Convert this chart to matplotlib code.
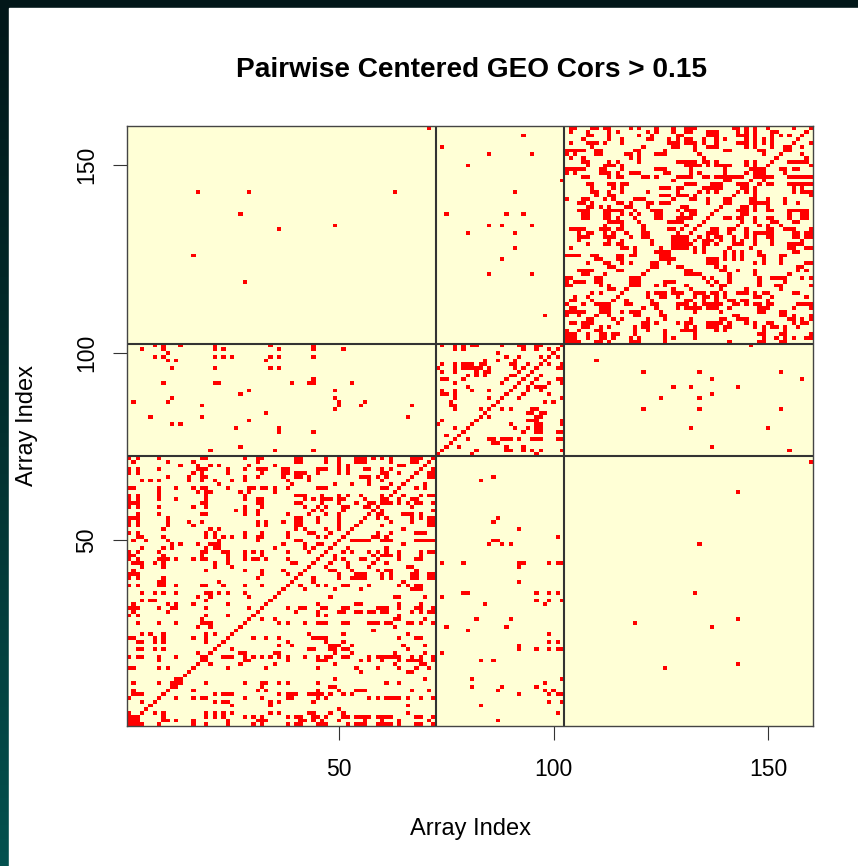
import numpy as np
import matplotlib
matplotlib.use('Agg')
import matplotlib.pyplot as plt
from matplotlib.colors import ListedColormap, LinearSegmentedColormap

plt.rcParams['font.family'] = ['Liberation Sans', 'DejaVu Sans']

n_arrays = 160
block_edges = [72.5, 102.5]
x_ticks = [50, 100, 150]
y_ticks = [50, 100, 150]

# Pairs above the diagonal, matrix is symmetric: (x, y) with y > x
far_pairs = [(17, 143), (29, 143), (63, 143), (27, 137), (49, 134), (36, 133), (16, 126), (28, 119), (71, 160)]

top_mid_pairs = [(93, 158), (74, 155), (85, 153), (95, 153), (80, 150), (102, 146), (91, 143), (75, 137),
                 (89, 137), (93, 137), (85, 134), (88, 134), (95, 134), (80, 132), (91, 132), (91, 128),
                 (88, 125), (85, 121), (95, 121), (98, 110)]

# Small clumps that touch the diagonal
near_diag_pairs = [(1, 2), (1, 3), (2, 3), (11, 12), (12, 13), (18, 19), (57, 59), (58, 60), (60, 62),
                   (60, 61), (83, 85), (97, 99), (99, 101), (128, 129), (128, 130), (129, 130), (129, 131),
                   (130, 131), (128, 131), (147, 149), (119, 120),
                   (103, 104), (103, 105), (104, 105), (107, 108), (108, 109), (111, 112), (112, 113), (111, 113),
                   (118, 119), (118, 120), (123, 124), (125, 126), (125, 127), (126, 127),
                   (140, 141), (144, 145), (143, 145), (147, 148), (148, 149), (154, 155)]

# Row y -> x positions, block 1 against block 2
mid_left_rows = {
    102: [7, 9, 13, 21, 34, 44], 101: [4, 9, 21, 23, 36, 44, 51], 100: [10], 99: [7, 9, 21, 23, 25, 34, 36, 44],
    98: [10, 12, 33], 96: [11, 21, 34, 36], 93: [44], 92: [9, 21, 22, 39, 43, 44, 53], 90: [29, 49], 89: [27],
    88: [11, 49], 87: [2, 10, 50, 56], 86: [18, 50, 55, 67], 85: [49], 84: [33], 83: [6, 18, 66], 82: [29],
    81: [11, 13], 80: [26, 36], 79: [36, 44], 75: [27], 74: [20, 35, 44],
}

# Block 1 (arrays 1-72), upper-left triangle
block1_rows = {
    72: [1, 3, 8, 18, 19, 28, 31, 32, 40, 41, 47, 50, 54, 55, 56, 58, 60, 62, 67, 68, 69, 71],
    71: [2, 10, 16, 31, 40, 41, 47, 50, 54, 55, 56, 62, 67, 68],
    70: [13, 17, 20, 22, 29, 35, 50, 52, 64, 65],
    69: [1, 3, 8, 17, 18, 19, 24, 28, 31, 32, 33, 37, 38, 45, 46, 47, 50, 52, 56, 57, 60, 62, 68],
    68: [1, 3, 16, 18, 24, 32, 37, 38, 40, 41, 42, 45, 50, 52, 60, 61, 64],
    67: [10, 15, 18, 19, 28, 31, 37, 40, 41, 43, 55, 56, 57, 59, 61, 65],
    66: [4, 6, 8, 15, 18, 21, 25, 28, 38, 43, 57, 60, 64],
    65: [22, 39, 49, 53, 57, 62],
    64: [1, 2, 8, 12, 16, 18, 19, 24, 29, 30, 32, 33, 35, 38, 45, 46, 47, 60, 61, 63],
    63: [8, 17, 19, 20, 27, 29, 35, 62],
    62: [1, 3, 8, 19, 28, 40, 41, 42, 46, 50, 52, 55, 61],
    61: [1, 3, 8, 12, 19, 28, 31, 32, 42, 44, 46, 47, 48, 50, 51, 56, 59, 60],
    60: [1, 2, 3, 18, 19, 31, 32, 40, 41, 46, 50, 54, 57, 58, 59],
    59: [1, 3, 8, 16, 19, 28, 32, 42, 45, 47, 51, 52, 56, 58],
    58: [26, 28, 31, 44, 46, 51, 57],
    57: [3, 8, 18, 19, 28, 31, 38, 43, 47, 50, 55, 56],
    56: [1, 2, 3, 10, 40, 41, 45, 50, 54, 55],
    55: [1, 3, 10, 15, 18, 31, 33, 37, 40, 41, 45, 50, 53, 54],
    54: [1, 3, 10, 16, 31, 33, 40, 41, 50, 52, 53],
    53: [9, 20, 22, 40, 42, 47, 50, 51, 52],
    52: [1, 3, 19, 21, 28, 32, 38, 43, 44, 48, 50, 51],
    51: [3, 4, 9, 19, 21, 23, 25, 28, 31, 32, 38, 45, 47, 49, 50],
    50: [2, 5, 10, 22, 31, 40, 41, 49],
    49: [11, 13, 17, 20, 21, 22, 37, 42, 45, 46, 48],
    48: [4, 9, 11, 19, 21, 22, 35, 42, 44, 47],
    47: [1, 3, 8, 18, 19, 23, 24, 28, 30, 32, 38, 43, 46],
    46: [1, 2, 9, 18, 24, 28, 32, 44, 45],
    45: [1, 3, 8, 9, 10, 12, 16, 18, 19, 24, 28, 30, 31, 33, 38, 44],
    44: [2, 3, 4, 7, 9, 21, 24, 39, 40, 43],
    43: [4, 9, 21, 25, 42],
    42: [2, 19, 28, 32, 37, 41],
    41: [1, 2, 3, 32, 38, 40],
    40: [1, 3, 9, 31, 39],
    39: [8, 9, 22, 38],
    38: [1, 3, 8, 9, 12, 18, 19, 23, 28, 32, 37],
    36: [4, 7, 9, 12, 19, 20, 22, 24, 28, 34, 35],
    35: [17, 20, 29, 34],
    34: [4, 6, 7, 19, 33],
    33: [2, 10, 12, 16, 24, 31, 32],
    32: [1, 2, 3, 8, 11, 12, 19, 29, 31],
    31: [2, 10, 30],
    30: [1, 3, 19, 24, 29],
    29: [18, 28],
    28: [3, 8, 12, 18, 19, 20, 27],
    27: [17, 20, 26],
    25: [4, 6, 9, 19, 21, 23, 24],
    24: [1, 2, 7, 9, 16, 19, 23],
    23: [3, 4, 7, 9, 19, 21, 22],
    22: [21],
    21: [3, 4, 7, 9, 19, 20],
    20: [17, 19],
    19: [1, 3, 4, 8, 12, 17, 18],
    18: [8, 16, 17],
    16: [1, 2, 8, 10, 15],
    13: [11, 12],
    12: [2, 8, 11],
    10: [2, 9],
    9: [2, 3, 4, 8],
    8: [1, 7],
    7: [4, 6],
    4: [1, 3],
    3: [1, 2],
    2: [1],
}

# Block 2 (arrays 73-102), upper-left triangle
block2_rows = {
    102: [74, 77, 79, 81, 82, 88, 92, 93, 96, 97, 101],
    101: [77, 79, 93, 96, 100],
    100: [87, 98, 99],
    99: [89, 92, 98],
    98: [84, 87, 91, 97],
    97: [74, 77, 79, 80, 81, 83, 84, 90, 91, 94, 95, 96],
    96: [73, 77, 79, 80, 81, 82, 83, 85, 91, 93, 95],
    95: [74, 77, 82, 84, 85, 92, 94],
    94: [80, 82, 84, 90, 91, 93],
    93: [74, 75, 79, 89, 92],
    92: [77, 88, 91, 90],
    91: [80, 90],
    90: [74, 77, 81, 85, 89],
    89: [74, 75, 77, 87, 88],
    88: [77, 85, 87],
    87: [76, 86],
    86: [76, 77, 85],
    85: [77, 83, 84],
    84: [83],
    83: [82],
    82: [74, 81],
    81: [73, 79, 80],
    80: [77, 79],
    78: [77, 75],
    77: [76],
    76: [75],
    75: [74, 73],
}

# Block 3 (arrays 103-160), upper-left triangle
block3_rows = {
    160: [104, 105, 109, 110, 112, 113, 118, 120, 124, 128, 131, 132, 133, 142, 143, 145, 147, 150, 156, 158, 159],
    159: [104, 108, 113, 115, 122, 124, 128, 131, 132, 136, 137, 138, 143, 145, 147, 151, 152],
    158: [108, 109, 113, 120, 123, 129, 130, 136, 137, 138, 143, 144, 145, 147, 151, 153, 155],
    157: [107, 113, 116, 122, 123, 127, 129, 131, 132, 135, 138, 140, 145, 147, 149, 151],
    156: [104, 108, 109, 110, 112, 116, 127, 128, 129, 131, 132, 133, 135, 138, 143, 144, 145, 147, 149, 151, 155],
    155: [109, 121, 128, 129, 133, 136, 137, 138, 145, 147, 151, 154],
    154: [103, 104, 105, 106, 107, 110, 111, 119, 120, 126, 133, 140, 141, 148, 149, 153],
    153: [103, 105, 110, 111, 117, 118, 120, 124, 125, 126, 134, 149, 152],
    152: [104, 107, 118, 120, 135, 150],
    151: [107, 108, 113, 115, 120, 129, 130, 131, 132, 133, 135, 136, 138, 145, 147, 150],
    150: [108, 112, 113, 114, 116, 131, 132, 133, 134, 136, 138, 139, 140, 141, 145, 147],
    149: [103, 104, 105, 106, 107, 111, 112, 116, 124, 125, 126, 132, 140, 146, 147, 148],
    148: [103, 105, 111, 112, 113, 115, 118, 119, 120, 126, 127, 132, 134, 140, 145, 146, 147],
    147: [107, 108, 113, 115, 116, 121, 122, 124, 129, 130, 131, 132, 135, 136, 138, 139, 140, 141, 142, 143, 144, 145, 146],
    146: [128, 140, 141, 145],
    145: [108, 109, 113, 114, 116, 117, 131, 132, 133, 137, 138, 139, 143, 144],
    144: [109, 114, 116, 125, 126, 127, 129, 130, 135, 136, 137, 138, 139, 143],
    143: [109, 110, 113, 116, 122, 129, 134, 136, 138, 141, 142],
    142: [110, 113, 114, 125, 126, 127, 129, 130, 131, 133, 140, 141],
    141: [103, 107, 108, 112, 114, 119, 120, 121, 128, 132, 133, 136, 140],
    140: [106, 107, 109, 115, 116, 118, 122, 123, 125, 126, 127, 136, 139],
    139: [108, 109, 111, 113, 117, 118, 122, 130, 131, 137, 138],
    138: [106, 107, 108, 112, 113, 114, 115, 116, 119, 123, 124, 125, 129, 131, 132, 133, 136, 137],
    137: [107, 108, 112, 113, 116, 118, 120, 124, 125, 130, 132, 133, 135, 136],
    136: [107, 108, 112, 113, 115, 119, 124, 125, 129, 130, 131, 132, 134, 135],
    135: [113, 114, 115, 116, 120, 127, 128, 129, 130, 134],
    134: [112, 116, 121, 131, 133],
    133: [104, 105, 106, 107, 111, 112, 113, 115, 116, 121, 127, 128, 130, 131, 132],
    132: [106, 108, 109, 112, 114, 117, 121, 122, 129, 130, 131],
    131: [106, 107, 108, 112, 113, 114, 118, 121, 122, 129, 130],
    130: [106, 113, 116, 123, 129],
    129: [108, 112, 113, 115, 116, 123, 128],
    128: [104, 116, 117, 119, 125, 127],
    127: [119, 124, 126],
    126: [103, 104, 105, 106, 109, 110, 115, 116, 118, 119, 125],
    125: [110, 111, 115, 116, 124],
    124: [108, 112, 113, 116, 118, 123],
    123: [113, 114, 121, 122],
    122: [106, 107, 108, 109, 115, 116, 121],
    121: [107, 108, 112, 120],
    120: [103, 104, 110, 111, 118, 119],
    119: [103, 105, 106, 107, 110, 111, 118],
    118: [103, 104, 111, 113, 117],
    117: [113, 114, 116],
    116: [109, 111, 115],
    115: [105, 108, 113, 114],
    114: [104, 105, 109, 113],
    113: [103, 107, 110, 112],
    112: [104, 105, 110, 111],
    111: [103, 104, 105, 106, 107, 110],
    110: [103, 106, 108, 109],
    109: [108],
    108: [104, 105, 106, 107],
    106: [103, 104, 105],
    105: [103, 104],
    104: [103],
}

cor_hit = np.zeros((n_arrays, n_arrays), dtype=int)
cor_hit[np.arange(n_arrays), np.arange(n_arrays)] = 1


def mark(x, y):
    cor_hit[y - 1, x - 1] = 1
    cor_hit[x - 1, y - 1] = 1


for x, y in far_pairs + top_mid_pairs + near_diag_pairs:
    mark(x, y)
for rows in [mid_left_rows, block1_rows, block2_rows, block3_rows]:
    for y, xs in rows.items():
        for x in xs:
            # rows were read loosely next to the diagonal, clumps are listed above
            if y - x >= 3:
                mark(x, y)

fig = plt.figure(figsize=(8.58, 8.66), dpi=100, facecolor='white')

# Dark desktop edge showing behind the plot window
edge_cmap = LinearSegmentedColormap.from_list('edge', ['#04514f', '#03302f', '#021719'])
bg = fig.add_axes([0, 0, 1, 1], zorder=0)
bg.imshow(np.linspace(0, 1, 256).reshape(-1, 1), cmap=edge_cmap, origin='lower',
          aspect='auto', extent=(0, 1, 0, 1))
bg.add_patch(plt.Rectangle((9 / 858, 0), 1, 1 - 8 / 866, color='white'))
bg.set_xlim(0, 1)
bg.set_ylim(0, 1)
bg.axis('off')

ax = fig.add_axes([127 / 858, 1 - 726 / 866, 686 / 858, 600 / 866], zorder=1)
ax.imshow(cor_hit, origin='lower', aspect='auto', interpolation='nearest',
          cmap=ListedColormap(['#FFFFD6', '#FF0000']),
          extent=(0.5, n_arrays + 0.5, 0.5, n_arrays + 0.5))

for edge in block_edges:
    ax.axvline(edge, color='#333333', lw=1.5)
    ax.axhline(edge, color='#333333', lw=1.5)

ax.set_xticks(x_ticks)
ax.set_yticks(y_ticks)
ax.tick_params(axis='x', length=10, width=0.8, color='#333333', labelsize=16.5, pad=13)
ax.tick_params(axis='y', length=10, width=0.8, color='#333333', labelsize=16.5, pad=11)
for lab in ax.get_yticklabels():
    lab.set_rotation(90)
    lab.set_va('center')
for spine in ax.spines.values():
    spine.set_linewidth(1.0)
    spine.set_color('#444444')

fig.text(471 / 858, 1 - 70 / 866, 'Pairwise Centered GEO Cors > 0.15', fontsize=20.2, fontweight='bold',
         ha='center', va='center')
fig.text(471 / 858, 1 - 829 / 866, 'Array Index', fontsize=17, ha='center', va='center')
fig.text(27 / 858, 1 - 425 / 866, 'Array Index', fontsize=17, ha='center', va='center', rotation=90)

fig.savefig('out.png', dpi=100)
